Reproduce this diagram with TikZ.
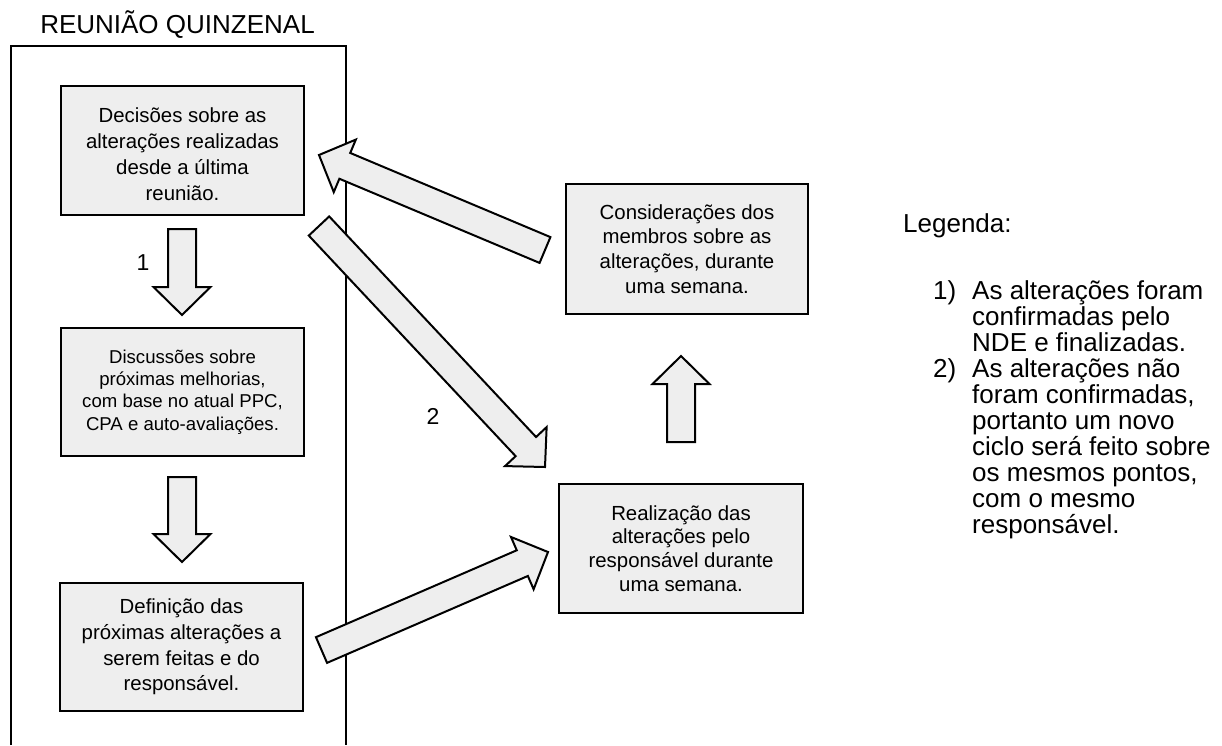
\documentclass[tikz,border=0pt]{standalone}
\usepackage{fontspec}
\setmainfont{Liberation Sans}
\usetikzlibrary{calc}
\definecolor{boxfill}{HTML}{EEEEEE}

% Block arrow from #1 (tail centre) to #2 (tip)
\newcommand{\blockarr}[2]{%
  \coordinate (neck) at ($(#2)!28pt!(#1)$);
  \draw[fatarrow]
    ($(#1)!14pt!90:(#2)$) -- ($(neck)!14pt!90:(#2)$) --
    ($(neck)!28.5pt!90:(#2)$) -- (#2) --
    ($(neck)!28.5pt!-90:(#2)$) -- ($(neck)!14pt!-90:(#2)$) --
    ($(#1)!14pt!-90:(#2)$) -- cycle;
}

\begin{document}
\begin{tikzpicture}[x=1pt,y=-1pt,
  stepbox/.style={draw=black, line width=2pt, fill=boxfill,
    minimum width=243pt, minimum height=128pt, align=center,
    inner sep=0pt, text=black},
  bigtext/.style={font=\fontsize{20.4}{25.8}\selectfont},
  smalltext/.style={font=\fontsize{18.6}{22.4}\selectfont},
  fatarrow/.style={draw=black, line width=2pt, fill=boxfill, line join=miter},
  labeltext/.style={font=\fontsize{23}{27}\selectfont, anchor=base},
  legtext/.style={font=\fontsize{26}{26}\selectfont, anchor=base west, inner sep=0pt}
]
\useasboundingbox (0,0) rectangle (1222,745);

% frame of the meeting, open at the bottom
\node[font=\fontsize{26}{30}\selectfont, anchor=base, inner sep=0pt] (title) at (177.5,33) {REUNIÃO QUINZENAL};
\draw[line width=2pt] (11,745) -- (11,46) -- (346,46) -- (346,745);

% steps
\node[stepbox, minimum height=129pt] (b1) at (182.5,150.5) {};
\node[bigtext, align=center, inner sep=0pt, font=\fontsize{20.4}{26}\selectfont] (b1t) at (182.5,154)
  {Decisões sobre as\\alterações realizadas\\desde a última\\reunião.};
\node[stepbox, smalltext] (b2) at (182.5,392)
  {Discussões sobre\\próximas melhorias,\\com base no atual PPC,\\CPA e auto-avaliações.};
\node[stepbox, bigtext] (b3) at (181.5,647)
  {Definição das\\próximas alterações a\\serem feitas e do\\responsável.};
\node[stepbox, font=\fontsize{20.4}{24.7}\selectfont, minimum width=242pt, minimum height=130pt] (b4) at (687,249)
  {Considerações dos\\membros sobre as\\alterações, durante\\uma semana.};
\node[stepbox, font=\fontsize{20.4}{23.7}\selectfont, minimum width=244pt, minimum height=129pt] (b5) at (681,548.5)
  {Realização das\\alterações pelo\\responsável durante\\uma semana.};

% arrow end points
\coordinate (a1s) at (182,229);   \coordinate (a1e) at (182,315);
\coordinate (a2s) at (182,477);   \coordinate (a2e) at (182,562);
\coordinate (a3s) at (321.5,650); \coordinate (a3e) at (548,552);
\coordinate (a4s) at (319,226);   \coordinate (a4e) at (545,467);
\coordinate (a5s) at (681,442);   \coordinate (a5e) at (681,356);
\coordinate (a6s) at (545,250);   \coordinate (a6e) at (319,155);

\blockarr{a1s}{a1e}
\blockarr{a2s}{a2e}
\blockarr{a3s}{a3e}
\blockarr{a4s}{a4e}
\blockarr{a5s}{a5e}
\blockarr{a6s}{a6e}

\node[labeltext] (l1) at (143,270) {1};
\node[labeltext] (l2) at (433,424) {2};

% legend (multi-line nodes are anchored on the baseline of their last line)
\node[legtext] (leg) at (903,232) {Legenda:};
\node[legtext] (n1) at (933,299) {1)};
\node[legtext, align=left] (t1) at (972,351)
  {As alterações foram\\confirmadas pelo\\NDE e finalizadas.};
\node[legtext] (n2) at (933,377) {2)};
\node[legtext, align=left] (t2) at (972,533)
  {As alterações não\\foram confirmadas,\\portanto um novo\\ciclo será feito sobre\\os mesmos pontos,\\com o mesmo\\responsável.};
\end{tikzpicture}
\end{document}
